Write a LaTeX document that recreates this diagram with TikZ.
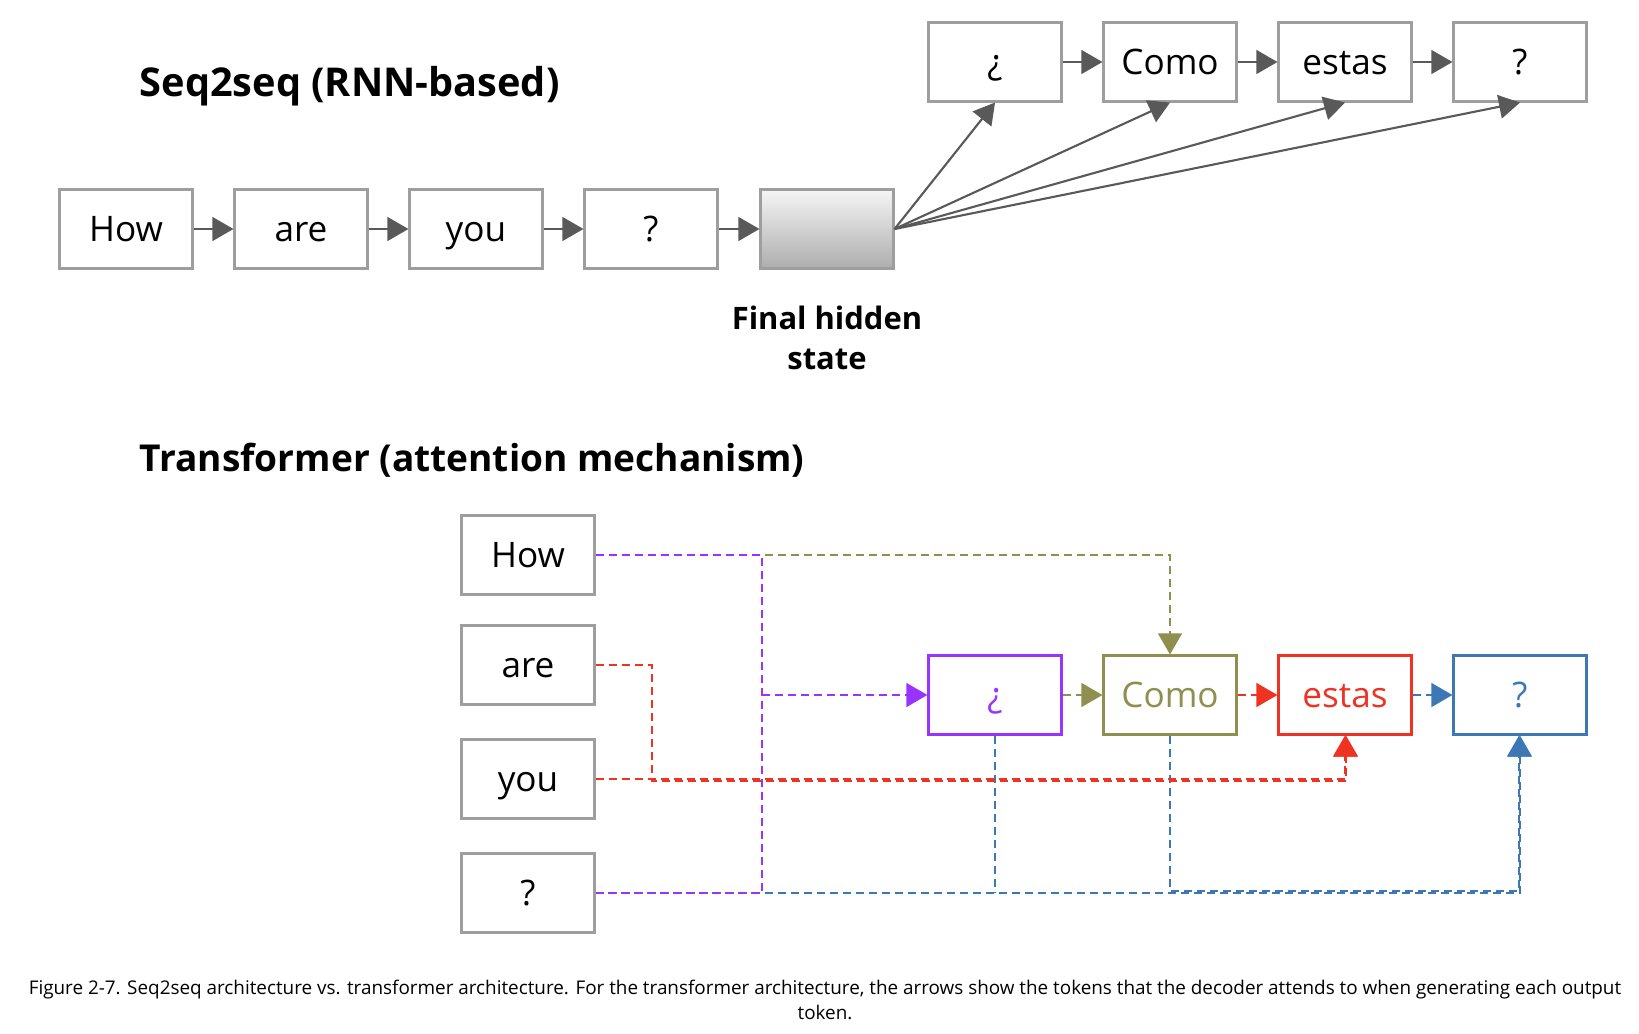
\documentclass[tikz,border=0pt]{standalone}
\usepackage{fontspec}
\setmainfont{Open Sans}
\usetikzlibrary{arrows,shapes}
\definecolor{boxgrey}{HTML}{9E9E9E}
\definecolor{arrgrey}{HTML}{595959}
\definecolor{attpurple}{HTML}{9933FF}
\definecolor{attolive}{HTML}{8F8F4F}
\definecolor{attred}{HTML}{EE3322}
\definecolor{attblue}{HTML}{3D78B5}
\tikzset{
	tok/.style={rectangle,draw=boxgrey,line width=0.6pt,minimum width=1.33cm,minimum height=0.79cm,inner sep=0pt,text height=0.714em,text depth=0pt,font=\fontsize{10}{12}\selectfont},
	seqarrow/.style={->,>=triangle 60,draw=arrgrey,line width=0.6pt},
	att/.style={dash pattern=on 0.08cm off 0.05cm,line width=0.6pt,>=triangle 60},
	headline/.style={anchor=west,inner sep=0pt,font=\bfseries}
}

\begin{document}
\begin{tikzpicture}
		\useasboundingbox (0,0) rectangle (16.39,-10.33);

		% seq2seq
		\node[headline] (seqtitle) at (1.39,-0.86) {\fontsize{11.3}{14}\selectfont Seq2seq (RNN-based)};
		\node[tok] (in1) at (1.26,-2.29) {How};
		\node[tok] (in2) at (3.01,-2.29) {are};
		\node[tok] (in3) at (4.76,-2.29) {you};
		\node[tok] (in4) at (6.51,-2.29) {?};
		\node[tok,top color=white!96!black,bottom color=black!32] (hidden) at (8.27,-2.29) {};
		\node[align=center,font=\bfseries\fontsize{8.8}{11.3}\selectfont] (hiddenlbl) at (8.27,-3.38) {Final hidden\\state};
		\node[tok] (out1) at (9.95,-0.62) {¿};
		\node[tok] (out2) at (11.70,-0.62) {Como};
		\node[tok] (out3) at (13.45,-0.62) {estas};
		\node[tok] (out4) at (15.20,-0.62) {?};

		\draw[seqarrow] (in1) -- (in2);
		\draw[seqarrow] (in2) -- (in3);
		\draw[seqarrow] (in3) -- (in4);
		\draw[seqarrow] (in4) -- (hidden);
		\draw[seqarrow] (out1) -- (out2);
		\draw[seqarrow] (out2) -- (out3);
		\draw[seqarrow] (out3) -- (out4);
		\draw[seqarrow] (hidden.east) -- (out1.south);
		\draw[seqarrow] (hidden.east) -- (out2.south);
		\draw[seqarrow] (hidden.east) -- (out3.south);
		\draw[seqarrow] (hidden.east) -- (out4.south);

		% transformer
		\node[headline] (transtitle) at (1.39,-4.60) {\fontsize{10.55}{14}\selectfont Transformer (attention mechanism)};
		\node[tok] (how) at (5.28,-5.55) {How};
		\node[tok] (are) at (5.28,-6.65) {are};
		\node[tok] (you) at (5.28,-7.79) {you};
		\node[tok] (qin) at (5.28,-8.93) {?};
		\node[tok,draw=attpurple,text=attpurple] (dq) at (9.95,-6.95) {¿};
		\node[tok,draw=attolive,text=attolive] (como) at (11.70,-6.95) {Como};
		\node[tok,draw=attred,text=attred] (estas) at (13.45,-6.95) {estas};
		\node[tok,draw=attblue,text=attblue] (qout) at (15.20,-6.95) {?};
		\coordinate (pjoin) at (7.62,-6.95);
		\coordinate (rjoin) at (6.52,-7.79);

		\draw[att,attblue,->] (qin.east) -| (qout.south);
		\draw[att,attblue] (dq.south) -- (dq.south |- qin.east);
		\draw[att,attblue,->] (como.south) -- ([yshift=0.02cm]como.south |- qin.east) -| ([xshift=-0.01cm]qout.south);
		\draw[att,attolive,->] (how.east) -| (como.north);
		\draw[att,attpurple] (how.east) -| (pjoin) |- (qin.east);
		\draw[att,attpurple,->] (pjoin) -- (dq.west);
		\draw[att,attred,->] (are.east) -| ([yshift=-0.02cm]rjoin) -| ([xshift=0.01cm]estas.south);
		\draw[att,attred,->] (you.east) -| (estas.south);

		\draw[att,attolive,->] (dq) -- (como);
		\draw[att,attred,->] (como) -- (estas);
		\draw[att,attblue,->] (estas) -- (qout);

		\node[align=center,font=\fontsize{5.37}{7.1}\selectfont] (caption) at (8.25,-9.995) {Figure 2-7. Seq2seq architecture vs. transformer architecture. For the transformer architecture, the arrows show the tokens that the decoder attends to when generating each output\\token.};
\end{tikzpicture}
\end{document}
